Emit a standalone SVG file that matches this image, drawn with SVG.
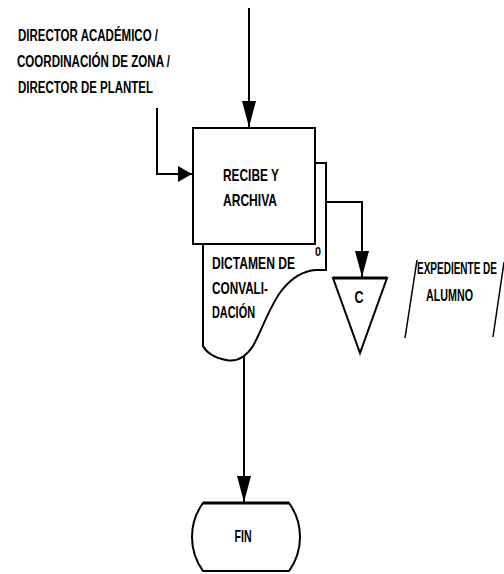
<svg xmlns="http://www.w3.org/2000/svg" width="504" height="574" viewBox="0 0 504 574">
<defs>
<style>
.ln{fill:none;stroke:#000;stroke-width:2}
.sh{fill:#fff;stroke:#000;stroke-width:2}
.t{font-family:"Liberation Sans",Arial,sans-serif;font-weight:bold;font-size:16px;fill:#000}
</style>
<marker id="ah" markerWidth="26" markerHeight="14" refX="26" refY="7" orient="auto" markerUnits="userSpaceOnUse">
<path d="M0,0 L26,7 L0,14 Z" fill="#000"/>
</marker>
<marker id="ahs" markerWidth="14" markerHeight="16" refX="14" refY="8" orient="auto" markerUnits="userSpaceOnUse">
<path d="M0,0 L14,8 L0,16 Z" fill="#000"/>
</marker>
</defs>
<rect width="504" height="574" fill="#fff"/>
<g id="connectors">
<path class="ln" d="M249,8 V127" marker-end="url(#ah)"/>
<path class="ln" d="M157,108 V174 H192" marker-end="url(#ahs)"/>
<path class="ln" d="M326,202 H362 V277" marker-end="url(#ah)"/>
<path class="ln" d="M244,356 V502" marker-end="url(#ah)"/>
</g>
<g id="label-origen">
<text class="t" x="18" y="41" textLength="140" lengthAdjust="spacingAndGlyphs">DIRECTOR ACADÉMICO /</text>
<text class="t" x="17" y="67" textLength="153" lengthAdjust="spacingAndGlyphs">COORDINACIÓN DE ZONA /</text>
<text class="t" x="18" y="93" textLength="135" lengthAdjust="spacingAndGlyphs">DIRECTOR DE PLANTEL</text>
</g>
<g id="doc-dictamen">
<path class="sh" d="M326,163 V270 H316 C300,271 290,280 282,290 C270,305 262,330 253,346 C245,358 235,362 226,360 C214,358 206,352 203,346 V163 Z"/>
<text class="t" x="212" y="269" textLength="83" lengthAdjust="spacingAndGlyphs">DICTAMEN DE</text>
<text class="t" x="212" y="294" textLength="56" lengthAdjust="spacingAndGlyphs">CONVALI-</text>
<text class="t" x="212" y="318" textLength="43" lengthAdjust="spacingAndGlyphs">DACIÓN</text>
<text class="t" x="318" y="256" text-anchor="middle" style="font-size:13px" textLength="6" lengthAdjust="spacingAndGlyphs">0</text>
</g>
<g id="proc-recibe">
<rect class="sh" x="193" y="128" width="122" height="116"/>
<text class="t" x="223" y="181" textLength="56" lengthAdjust="spacingAndGlyphs" style="font-size:17px">RECIBE Y</text>
<text class="t" x="223" y="206" textLength="54" lengthAdjust="spacingAndGlyphs" style="font-size:17px">ARCHIVA</text>
</g>
<g id="archivo-c">
<path class="sh" d="M333,278 H387 L360,353 Z"/>
<path class="ln" d="M333,278 H387" style="stroke-width:3"/>
<text class="t" x="359" y="303" text-anchor="middle" textLength="9" lengthAdjust="spacingAndGlyphs">C</text>
</g>
<g id="expediente">
<path class="ln" d="M405,338 L417,260" style="stroke-width:1.5"/>
<path class="ln" d="M493,337 L504,262" style="stroke-width:1.5"/>
<text class="t" x="417" y="274" textLength="80" lengthAdjust="spacingAndGlyphs">EXPEDIENTE DE</text>
<text class="t" x="426" y="301" textLength="47" lengthAdjust="spacingAndGlyphs">ALUMNO</text>
</g>
<g id="fin">
<path class="sh" d="M203,503 H289 A58,58 0 0 1 289,571 H203 A58,58 0 0 1 203,503 Z"/>
<path class="ln" d="M203,503 H289" style="stroke-width:3"/>
<text class="t" x="243" y="542" text-anchor="middle" textLength="17" lengthAdjust="spacingAndGlyphs" style="font-size:17px">FIN</text>
</g>
</svg>
